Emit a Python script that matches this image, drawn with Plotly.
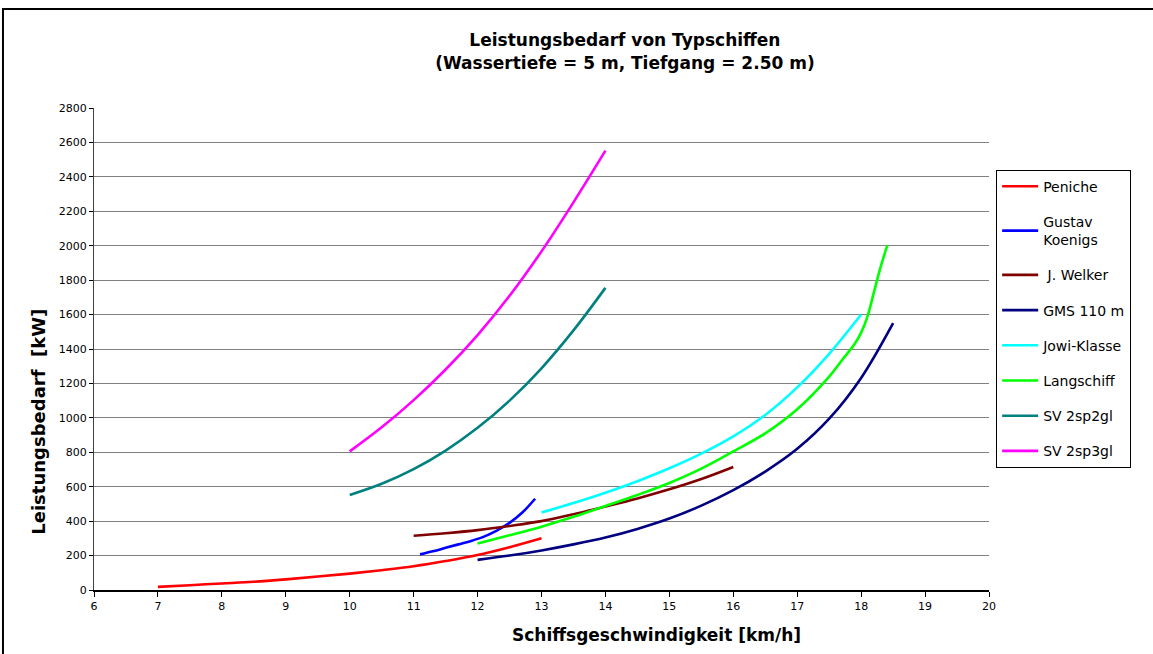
import plotly.graph_objects as go

# ---- data (speed km/h, power kW) ----
peniche_x = [7, 7.5, 8, 8.5, 9, 9.5, 10, 10.5, 11, 11.5, 12, 12.5, 13]
peniche_y = [18, 28, 38, 48, 62, 78, 95, 115, 138, 168, 203, 248, 300]

gustav_x = [11.1, 11.3, 11.5, 11.7, 11.9, 12.1, 12.3, 12.5, 12.7, 12.9]
gustav_y = [207, 225, 245, 265, 285, 310, 345, 390, 450, 530]

welker_x = [11, 11.5, 12, 12.5, 13, 13.5, 14, 14.5, 15, 15.5, 16]
welker_y = [315, 330, 348, 372, 400, 440, 485, 532, 585, 645, 715]

gms_x = [12, 12.5, 13, 13.5, 14, 14.5, 15, 15.5, 16, 16.5, 17, 17.5, 18, 18.5]
gms_y = [175, 200, 230, 265, 305, 355, 415, 490, 580, 688, 820, 995, 1232, 1550]

jowi_x = [13, 13.5, 14, 14.5, 15, 15.5, 16, 16.5, 17, 17.5, 18]
jowi_y = [450, 505, 565, 632, 707, 792, 892, 1017, 1177, 1372, 1600]

lang_x = [12, 12.5, 13, 13.5, 14, 14.5, 15, 15.5, 16, 16.5, 17, 17.5, 17.7, 17.9, 18.0, 18.1, 18.2, 18.3, 18.41]
lang_y = [270, 318, 368, 425, 488, 552, 622, 705, 805, 910, 1050, 1240, 1335, 1430, 1495, 1590, 1730, 1870, 2004]

sv22_x = [10, 10.5, 11, 11.5, 12, 12.5, 13, 13.5, 14]
sv22_y = [552, 617, 702, 810, 942, 1100, 1288, 1508, 1755]

sv23_x = [10, 10.5, 11, 11.5, 12, 12.5, 13, 13.5, 14]
sv23_y = [805, 945, 1103, 1281, 1481, 1709, 1967, 2252, 2552]

series = [
    ("Peniche", peniche_x, peniche_y, "#FF0000"),
    ("Gustav<br>Koenigs", gustav_x, gustav_y, "#0000FF"),
    (" J. Welker", welker_x, welker_y, "#800000"),
    ("GMS 110 m", gms_x, gms_y, "#000080"),
    ("Jowi-Klasse", jowi_x, jowi_y, "#00FFFF"),
    ("Langschiff", lang_x, lang_y, "#00FF00"),
    ("SV 2sp2gl", sv22_x, sv22_y, "#008080"),
    ("SV 2sp3gl", sv23_x, sv23_y, "#FF00FF"),
]

fig = go.Figure()
for i, (name, xs, ys, col) in enumerate(series):
    fig.add_trace(go.Scatter(
        x=xs, y=ys, mode="lines", name=name, legendgroup=str(i),
        line=dict(color=col, width=2.6, shape="spline", smoothing=1.0),
    ))

FONT = "DejaVu Sans, Liberation Sans, Arial, sans-serif"

fig.update_layout(
    width=1153, height=654,
    margin=dict(l=94, r=164, t=108, b=64),
    paper_bgcolor="white", plot_bgcolor="white",
    font=dict(family=FONT, color="black", size=11),
    title=dict(
        text="<b>Leistungsbedarf von Typschiffen<br>(Wassertiefe = 5 m, Tiefgang = 2.50 m)</b>",
        x=0.542, xanchor="center", y=0.929, yanchor="middle",
        font=dict(family=FONT, size=17, color="black"),
    ),
    showlegend=True,
    legend=dict(
        x=1.008, xanchor="left", y=0.872, yanchor="top",
        bordercolor="black", borderwidth=1, bgcolor="white",
        font=dict(family=FONT, size=14, color="black"),
        tracegroupgap=14, itemwidth=36,
    ),
    xaxis=dict(
        range=[6, 20], dtick=1, tick0=6,
        showgrid=False, zeroline=False,
        showline=True, linecolor="black", linewidth=2,
        ticks="outside", ticklen=5, tickcolor="black",
        tickfont=dict(size=11),
    ),
    yaxis=dict(
        range=[0, 2800], dtick=200, tick0=0,
        showgrid=True, gridcolor="#808080", gridwidth=1,
        zeroline=False,
        showline=True, linecolor="#404040", linewidth=1,
        ticks="outside", ticklen=4, tickcolor="black",
        tickfont=dict(size=11),
    ),
)

# axis titles (placed as in the reference, off-centre)
fig.add_annotation(text="<b>Schiffsgeschwindigkeit [km/h]</b>", xref="paper", yref="paper",
                   x=0.628, y=-0.0934, xanchor="center", yanchor="middle", showarrow=False,
                   font=dict(family=FONT, size=17, color="black"))
fig.add_annotation(text="<b>Leistungsbedarf  [kW]</b>", xref="paper", yref="paper",
                   x=-0.0615, y=0.349, xanchor="center", yanchor="middle", showarrow=False,
                   textangle=-90, font=dict(family=FONT, size=18, color="black"))

# outer chart-area frame
fig.add_shape(type="rect", xref="paper", yref="paper",
              x0=-0.1017, x1=1.3, y0=-0.3, y1=1.2054,
              line=dict(color="black", width=2), fillcolor="rgba(0,0,0,0)", layer="below")

fig.write_html("out.html", config={"displayModeBar": False},
               post_script="document.body.style.margin='0';")
